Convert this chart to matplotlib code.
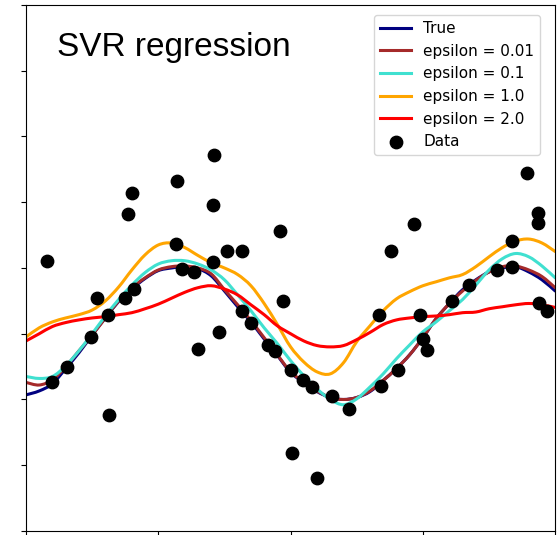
import matplotlib
matplotlib.use("Agg")
import matplotlib.pyplot as plt
from matplotlib.path import Path
from matplotlib.patches import PathPatch
from matplotlib.lines import Line2D
import numpy as np

# Sample grid shared by all curves
x_grid = [0.0, 0.1, 0.2, 0.3, 0.4, 0.5, 0.6, 0.7, 0.8, 0.9,
          1.0, 1.1, 1.2, 1.3, 1.4, 1.5, 1.6, 1.7, 1.8, 1.9,
          2.0, 2.1, 2.2, 2.3, 2.4, 2.5, 2.6, 2.7, 2.8, 2.9,
          3.0, 3.1, 3.2, 3.3, 3.4, 3.5, 3.6, 3.7, 3.8, 3.9, 4.0]

y_true = [-0.93, -0.87, -0.76, -0.53, -0.29, -0.02, 0.24, 0.49, 0.68, 0.84,
          0.96, 1.00, 1.02, 0.99, 0.88, 0.65, 0.41, 0.18, -0.08, -0.33,
          -0.59, -0.74, -0.88, -0.97, -1.00, -0.97, -0.88, -0.71, -0.53, -0.32,
          -0.06, 0.23, 0.46, 0.67, 0.82, 0.94, 1.00, 1.02, 0.94, 0.82, 0.65]

y_eps_001 = [-0.74, -0.78, -0.70, -0.50, -0.26, -0.02, 0.24, 0.50, 0.70, 0.85,
             0.97, 1.02, 1.03, 1.00, 0.91, 0.67, 0.44, 0.20, -0.06, -0.32,
             -0.58, -0.73, -0.87, -0.97, -1.00, -0.97, -0.87, -0.71, -0.53, -0.32,
             -0.06, 0.23, 0.46, 0.65, 0.81, 0.94, 1.02, 1.03, 0.97, 0.87, 0.70]

y_eps_01 = [-0.65, -0.68, -0.65, -0.49, -0.26, 0.00, 0.27, 0.52, 0.74, 0.93,
            1.06, 1.11, 1.11, 1.06, 0.97, 0.82, 0.59, 0.35, 0.09, -0.15,
            -0.41, -0.64, -0.84, -1.00, -1.08, -0.99, -0.81, -0.61, -0.38, -0.17,
            0.03, 0.18, 0.35, 0.52, 0.74, 0.97, 1.14, 1.22, 1.17, 1.03, 0.85]

y_eps_1 = [-0.05, 0.09, 0.18, 0.24, 0.29, 0.36, 0.50, 0.71, 0.97, 1.20,
           1.35, 1.38, 1.31, 1.19, 1.08, 1.00, 0.90, 0.73, 0.46, 0.14,
           -0.20, -0.43, -0.58, -0.61, -0.44, -0.12, 0.12, 0.35, 0.53, 0.64,
           0.73, 0.79, 0.85, 0.90, 1.02, 1.17, 1.31, 1.41, 1.44, 1.38, 1.25]

y_eps_2 = [-0.11, 0.00, 0.11, 0.17, 0.21, 0.24, 0.26, 0.29, 0.32, 0.38,
           0.45, 0.54, 0.63, 0.70, 0.73, 0.68, 0.59, 0.44, 0.29, 0.12,
           0.00, -0.11, -0.18, -0.20, -0.18, -0.09, 0.02, 0.14, 0.21, 0.24,
           0.26, 0.27, 0.29, 0.32, 0.33, 0.38, 0.41, 0.44, 0.46, 0.44, 0.40]

# Noisy observations
data_x = [0.16, 0.20, 0.31, 0.49, 0.54, 0.63, 0.62, 0.75, 0.77, 0.80,
          0.82, 1.13, 1.14, 1.18, 1.27, 1.30, 1.41, 1.41, 1.42, 1.46,
          1.52, 1.63, 1.63, 1.70, 1.83, 1.88, 1.92, 1.94, 2.00, 2.01,
          2.09, 2.16, 2.20, 2.31, 2.44, 2.67, 2.68, 2.76, 2.81, 2.93,
          2.98, 3.00, 3.03, 3.22, 3.35, 3.56, 3.67, 3.67, 3.79, 3.87,
          3.87, 3.88, 3.94]
data_y = [1.11, -0.73, -0.50, -0.05, 0.55, -1.23, 0.29, 0.55, 1.82, 2.14,
          0.68, 1.37, 2.33, 0.99, 0.94, -0.23, 1.09, 1.96, 2.72, 0.02,
          1.26, 1.26, 0.35, 0.17, -0.17, -0.27, 1.57, 0.50, -0.55, -1.81,
          -0.70, -0.81, -2.20, -0.94, -1.14, 0.29, -0.79, 1.26, -0.55, 1.67,
          0.29, -0.08, -0.24, 0.50, 0.74, 0.97, 1.02, 1.41, 2.45, 1.84,
          1.69, 0.47, 0.35]

x_ticks = [0, 1, 2, 3, 4]
y_ticks = [-3, -2, -1, 0, 1, 2, 3, 4, 5]

series = [
    ("True", y_true, "navy"),
    ("epsilon = 0.01", y_eps_001, "brown"),
    ("epsilon = 0.1", y_eps_01, "turquoise"),
    ("epsilon = 1.0", y_eps_1, "orange"),
    ("epsilon = 2.0", y_eps_2, "red"),
]


def smooth_path(xs, ys):
    """Cubic Bezier path through the points (Catmull-Rom control points)."""
    p = np.column_stack([xs, ys]).astype(float)
    n = len(p)
    verts = [p[0]]
    codes = [Path.MOVETO]
    for i in range(n - 1):
        p0 = p[i - 1] if i > 0 else p[i]
        p1 = p[i]
        p2 = p[i + 1]
        p3 = p[i + 2] if i + 2 < n else p[i + 1]
        c1 = p1 + (p2 - p0) / 6.0
        c2 = p2 - (p3 - p1) / 6.0
        verts.extend([c1, c2, p2])
        codes.extend([Path.CURVE4] * 3)
    return Path(verts, codes)


fig = plt.figure(figsize=(5.58, 5.35), dpi=100)
ax = fig.add_axes([0.0466, 0.0075, 0.9484, 0.9832])

lw = 2.2
handles = []
for label, ys, color in series:
    patch = PathPatch(smooth_path(x_grid, ys), facecolor="none",
                      edgecolor=color, lw=lw, capstyle="round",
                      joinstyle="round", zorder=2)
    ax.add_patch(patch)
    handles.append(Line2D([], [], color=color, lw=lw, label=label))

sc = ax.scatter(data_x, data_y, s=80, color="black", zorder=3, label="Data")
handles.append(sc)

ax.set_xlim(0, 4)
ax.set_ylim(-3, 5)
ax.set_xticks(x_ticks)
ax.set_yticks(y_ticks)
ax.set_xticklabels([])
ax.set_yticklabels([])

ax.text(0.0586, 0.903, "SVR regression", transform=ax.transAxes,
        fontsize=24, family="Liberation Sans", va="baseline", ha="left")

ax.legend(handles=handles, loc="upper right", bbox_to_anchor=(0.9716, 0.981),
          borderaxespad=0.0, fontsize=11, labelspacing=0.5)

fig.savefig("out.png", dpi=100)
